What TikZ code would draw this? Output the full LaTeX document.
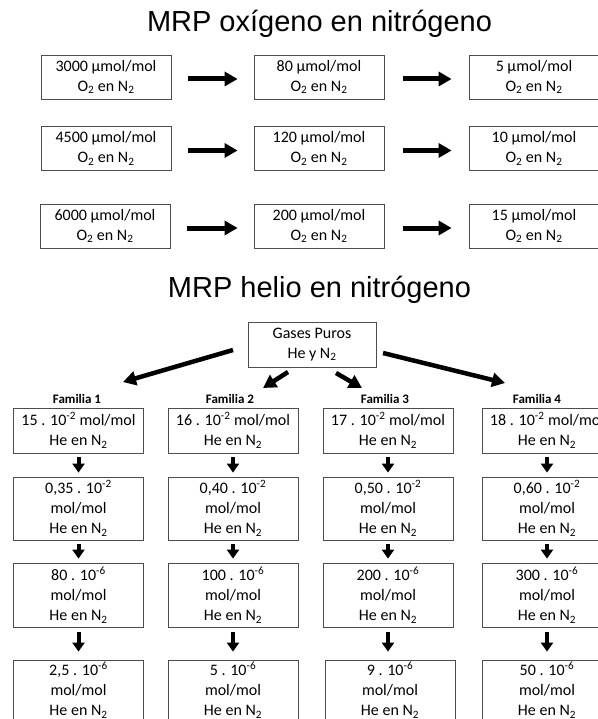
\documentclass[tikz,border=0pt]{standalone}
\usepackage{fontspec}
\setmainfont{Carlito}
\newfontfamily\titlefont{Liberation Sans}
\usetikzlibrary{arrows.meta}
\tikzset{
  box/.style={draw=black!70, line width=0.8pt, inner sep=0pt, align=center,
    font=\fontsize{16}{20}\selectfont},
  topbox/.style={box, minimum width=130pt, minimum height=44pt},
  fambox/.style={box, minimum width=130pt},
  famtitle/.style={font=\bfseries\fontsize{13}{15}\selectfont, anchor=base},
  titletext/.style={font=\titlefont\fontsize{29}{32}\selectfont, anchor=base},
  hbig/.style={line width=5pt, -{Triangle[length=13pt,width=14pt]}},
  vsmall/.style={line width=4pt, -{Triangle[length=9pt,width=12pt]}},
  diag/.style={line width=4.5pt, -{Triangle[length=13pt,width=14pt]}},
}
\begin{document}
\begin{tikzpicture}[x=1pt,y=-1pt]
\useasboundingbox (0,0) rectangle (597,719);

% ---------- top part ----------
\node[titletext] (t1) at (319.5,32) {MRP oxígeno en nitrógeno};

\node[topbox] (a1) at (106,77)  {3000 µmol/mol\\O\textsubscript{2} en N\textsubscript{2}};
\node[topbox] (a2) at (319,77)  {80 µmol/mol\\O\textsubscript{2} en N\textsubscript{2}};
\node[topbox] (a3) at (534,77)  {5 µmol/mol\\O\textsubscript{2} en N\textsubscript{2}};

\node[topbox] (b1) at (106,148.5) {4500 µmol/mol\\O\textsubscript{2} en N\textsubscript{2}};
\node[topbox] (b2) at (319,148.5) {120 µmol/mol\\O\textsubscript{2} en N\textsubscript{2}};
\node[topbox] (b3) at (534,148.5) {10 µmol/mol\\O\textsubscript{2} en N\textsubscript{2}};

\node[topbox] (c1) at (105,226) {6000 µmol/mol\\O\textsubscript{2} en N\textsubscript{2}};
\node[topbox] (c2) at (319,226) {200 µmol/mol\\O\textsubscript{2} en N\textsubscript{2}};
\node[topbox] (c3) at (534,226) {15 µmol/mol\\O\textsubscript{2} en N\textsubscript{2}};

\foreach \r in {a,b,c}{
  \draw[hbig, shorten <=17pt, shorten >=16pt] ([yshift=-2pt]\r1.east) -- ([yshift=-2pt]\r2.west);
  \draw[hbig, shorten <=19pt, shorten >=17pt] ([yshift=-2pt]\r2.east) -- ([yshift=-2pt]\r3.west);
}

% ---------- bottom part ----------
\node[titletext] (t2) at (319.5,297) {MRP helio en nitrógeno};

\node[box, minimum width=128pt, minimum height=45pt] (g) at (312,344.5)
  {Gases Puros\\He y N\textsubscript{2}};

\node[famtitle] (l1) at (77,403)  {Familia 1};
\node[famtitle] (l2) at (230,403) {Familia 2};
\node[famtitle] (l3) at (385,403) {Familia 3};
\node[famtitle] (l4) at (537,403) {Familia 4};

\coordinate (s1) at (233,350); \coordinate (e1) at (123,382);
\coordinate (s2) at (288,372); \coordinate (e2) at (263,388);
\coordinate (s3) at (336,373); \coordinate (e3) at (362,388);
\coordinate (s4) at (383,353); \coordinate (e4) at (505,383);
\foreach \i in {1,2,3,4}{ \draw[diag] (s\i) -- (e\i); }

% row 1
\node[fambox, minimum height=45pt] (f11) at (78.5,430.5) {15 . 10\textsuperscript{-2} mol/mol\\He en N\textsubscript{2}};
\node[fambox, minimum height=45pt] (f21) at (233,430.5)  {16 . 10\textsuperscript{-2} mol/mol\\He en N\textsubscript{2}};
\node[fambox, minimum height=45pt] (f31) at (388,430.5)  {17 . 10\textsuperscript{-2} mol/mol\\He en N\textsubscript{2}};
\node[fambox, minimum height=45pt] (f41) at (547,430.5)  {18 . 10\textsuperscript{-2} mol/mol\\He en N\textsubscript{2}};
% row 2
\node[fambox, minimum height=63pt] (f12) at (78.5,508.5) {0,35 . 10\textsuperscript{-2}\\mol/mol\\He en N\textsubscript{2}};
\node[fambox, minimum height=63pt] (f22) at (233,508.5)  {0,40 . 10\textsuperscript{-2}\\mol/mol\\He en N\textsubscript{2}};
\node[fambox, minimum height=63pt] (f32) at (388,508.5)  {0,50 . 10\textsuperscript{-2}\\mol/mol\\He en N\textsubscript{2}};
\node[fambox, minimum height=63pt] (f42) at (547,508.5)  {0,60 . 10\textsuperscript{-2}\\mol/mol\\He en N\textsubscript{2}};
% row 3
\node[fambox, minimum height=64pt] (f13) at (78.5,595) {80 . 10\textsuperscript{-6}\\mol/mol\\He en N\textsubscript{2}};
\node[fambox, minimum height=64pt] (f23) at (233,595)  {100 . 10\textsuperscript{-6}\\mol/mol\\He en N\textsubscript{2}};
\node[fambox, minimum height=64pt] (f33) at (388,595)  {200 . 10\textsuperscript{-6}\\mol/mol\\He en N\textsubscript{2}};
\node[fambox, minimum height=64pt] (f43) at (547,595)  {300 . 10\textsuperscript{-6}\\mol/mol\\He en N\textsubscript{2}};
% row 4
\node[fambox, minimum height=60pt] (f14) at (78.5,690) {2,5 . 10\textsuperscript{-6}\\mol/mol\\He en N\textsubscript{2}};
\node[fambox, minimum height=60pt] (f24) at (233,690)  {5 . 10\textsuperscript{-6}\\mol/mol\\He en N\textsubscript{2}};
\node[fambox, minimum height=60pt] (f34) at (390,690)  {9 . 10\textsuperscript{-6}\\mol/mol\\He en N\textsubscript{2}};
\node[fambox, minimum height=60pt] (f44) at (547,690)  {50 . 10\textsuperscript{-6}\\mol/mol\\He en N\textsubscript{2}};

\foreach \c in {1,2,3,4}{
  \draw[vsmall, shorten <=4pt, shorten >=4pt] (f\c1) -- (f\c2);
  \draw[vsmall, shorten <=4pt, shorten >=4pt] (f\c2) -- (f\c3);
  \draw[vsmall, shorten <=5pt, shorten >=8pt] (f\c3.south) -- (f\c3.south |- f\c4.north);
}
\end{tikzpicture}
\end{document}
